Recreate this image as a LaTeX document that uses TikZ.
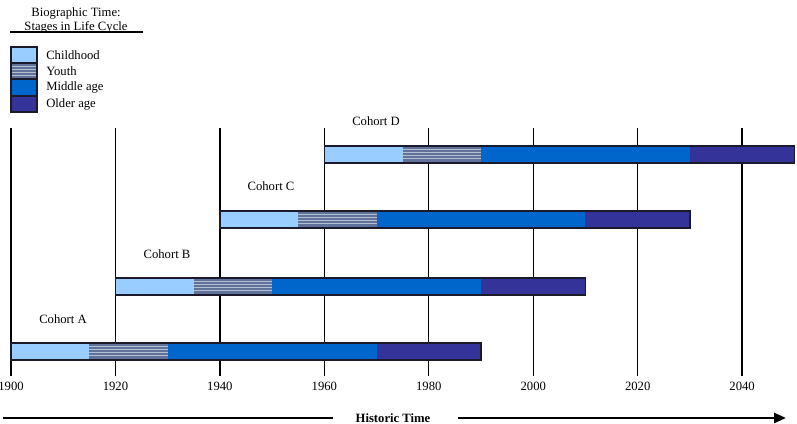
\documentclass[tikz,border=0pt]{standalone}
\usepackage{fontspec}
\setmainfont{Liberation Serif}
\usetikzlibrary{arrows.meta}
\definecolor{childc}{HTML}{99CCFF}
\definecolor{youthc}{HTML}{61729A}
\definecolor{youthl}{HTML}{B4BFD2}
\definecolor{midc}{HTML}{0066CC}
\definecolor{oldc}{HTML}{333399}
\definecolor{edgec}{HTML}{1A1A2A}
\tikzset{
  txt/.style={inner sep=0pt, font=\fontsize{9.5}{11}\selectfont},
  yearline/.style={line width=1pt, black},
  barframe/.style={draw=edgec, line width=1.1pt},
  histline/.style={line width=2pt, black},
}
\newcommand{\youthstripes}[4]{% x1 x2 ytop ybottom
  \fill[youthc] (#1,#3) rectangle (#2,#4);
  \foreach \o in {3.5,6.5,9.5,12.5}{\draw[youthl, line width=0.7pt] (#1,#3+\o) -- (#2,#3+\o);}
}
\begin{document}
\begin{tikzpicture}[x=0.75pt,y=-0.75pt]
\useasboundingbox (0,0) rectangle (797,424);
\fill[white] (0,0) rectangle (797,424);
% legend
\node[txt] (lh1) at (76,13) {Biographic Time:};
\node[txt] (lh2) at (76,27) {Stages in Life Cycle};
\draw[line width=1.1pt] (10,32) -- (143,32);
\fill[childc] (11,47) rectangle (37,63);
\youthstripes{11}{37}{63}{79}
\fill[midc] (11,79) rectangle (37,96);
\fill[oldc] (11,96) rectangle (37,112);
\draw[barframe] (11,47) rectangle (37,112);
\draw[edgec, line width=0.8pt] (11,63) -- (37,63) (11,79) -- (37,79) (11,96) -- (37,96);
\node[txt, anchor=west] (l1) at (46,55) {Childhood};
\node[txt, anchor=west] (l2) at (46,71) {Youth};
\node[txt, anchor=west] (l3) at (46,87) {Middle age};
\node[txt, anchor=west] (l4) at (46,104) {Older age};
% year lines and labels
\foreach \yr in {1900,1920,...,2040}{
  \pgfmathsetmacro\xx{11+(\yr-1900)*5.2225}
  \draw[yearline] (\xx,128) -- (\xx,376);
  \node[txt] (y\yr) at (\xx,386) {\yr};
}
% cohorts
\foreach \s/\t/\nm/\lx/\ly in {1900/343/A/63/319, 1920/278/B/167/254, 1940/211/C/271/186, 1960/146/D/376/121}{
  \pgfmathsetmacro\xa{11+(\s-1900)*5.2225}
  \pgfmathsetmacro\xb{11+(\s+15-1900)*5.2225}
  \pgfmathsetmacro\xc{11+(\s+30-1900)*5.2225}
  \pgfmathsetmacro\xd{11+(\s+70-1900)*5.2225}
  \pgfmathsetmacro\xe{11+(\s+90-1900)*5.2225}
  \pgfmathsetmacro\bb{\t+17}
  \fill[childc] (\xa,\t) rectangle (\xb,\bb);
  \youthstripes{\xb}{\xc}{\t}{\bb}
  \fill[midc] (\xc,\t) rectangle (\xd,\bb);
  \fill[oldc] (\xd,\t) rectangle (\xe,\bb);
  \draw[barframe] (\xa,\t) rectangle (\xe,\bb);
  \node[txt] (c\nm) at (\lx,\ly) {Cohort \nm};
}
% historic time
\node[txt, font=\fontsize{9.5}{11}\selectfont\bfseries] (ht) at (393,418) {Historic Time};
\coordinate (hl) at (3,418);
\coordinate (hle) at (333,418);
\coordinate (hr) at (458,418);
\coordinate (hre) at (786,418);
\draw[histline] (hl) -- (hle);
\draw[histline, -{Triangle[length=9pt,width=7.5pt]}] (hr) -- (hre);
\end{tikzpicture}
\end{document}
